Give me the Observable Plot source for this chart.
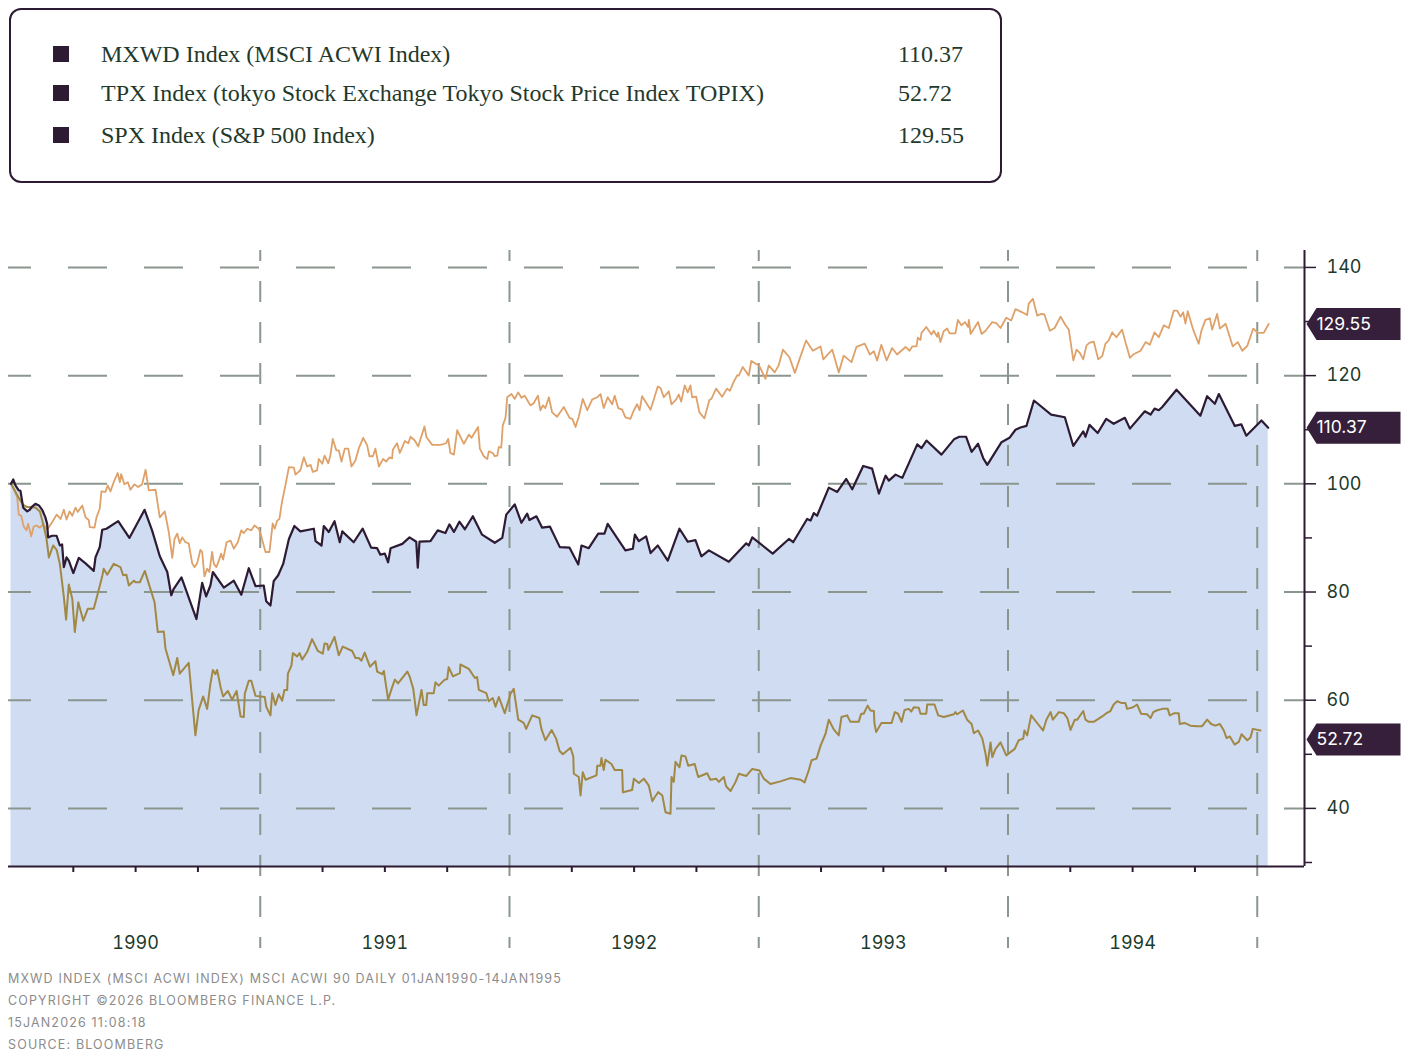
<!DOCTYPE html>
<html>
<head>
<meta charset="utf-8">
<script src="https://cdn.jsdelivr.net/npm/d3@7"></script>
<script src="https://cdn.jsdelivr.net/npm/@observablehq/plot@0.6"></script>
<style>
  html, body { margin: 0; padding: 0; background: #ffffff; }
  #page { position: relative; width: 1408px; height: 1057px; overflow: hidden; font-family: Inter, "Noto Sans", sans-serif; }
  #legend { position: absolute; left: 9px; top: 8px; width: 993px; height: 175px; box-sizing: border-box; border: 2px solid #2d1b33; border-radius: 12px; }
  .lg-sq { position: absolute; width: 16px; height: 16px; background: #2d1b33; }
  .lg-tx { position: absolute; font-family: "Liberation Serif", "DejaVu Serif", serif; font-size: 24px; line-height: 30px; height: 30px; color: #1f3a2c; white-space: nowrap; }
  #chart { position: absolute; left: 0; top: 240px; }
  .ft { position: absolute; left: 8px; font-family: Inter, sans-serif; font-size: 12.5px; line-height: 22px; letter-spacing: 1.15px; color: #8c8c8c; white-space: nowrap; }
</style>
</head>
<body>
<div id="page">
  <div id="legend"></div>
  <div id="chart"></div>
  <div id="footer"></div>
</div>
<script>
// ---------- DATA (decimal year, index value) ----------
const legendNames = [
  "MXWD Index (MSCI ACWI Index)",
  "TPX Index (tokyo Stock Exchange Tokyo Stock Price Index TOPIX)",
  "SPX Index (S&P 500 Index)"
];
const legendValues = ["110.37", "52.72", "129.55"];

const footerLines = [
  "MXWD INDEX (MSCI ACWI INDEX) MSCI ACWI 90 DAILY 01JAN1990-14JAN1995",
  "COPYRIGHT \u00A92026 BLOOMBERG FINANCE L.P.",
  "15JAN2026 11:08:18",
  "SOURCE: BLOOMBERG"
];

const lastValues = [
  {series: "SPX", v: 129.55, label: "129.55"},
  {series: "MXWD", v: 110.37, label: "110.37"},
  {series: "TPX", v: 52.72, label: "52.72"}
];

const yearLabels = [1990, 1991, 1992, 1993, 1994];
const yearBounds = [1991, 1992, 1993, 1994, 1995];
const yTickValues = [40, 60, 80, 100, 120, 140];
const yMinorValues = [30, 50, 70, 90, 110, 130];

const mxwd = [
[1990.000,100],[1990.009,100.8],[1990.018,99.7],[1990.031,98.8],[1990.038,98.7],[1990.049,95.6],[1990.065,94.9],[1990.075,95.2],[1990.085,95.8],[1990.098,96.3],[1990.112,96.0],[1990.125,95.2],[1990.138,93.8],[1990.145,92.6],[1990.149,90.1],[1990.165,90.4],[1990.183,90.4],[1990.196,88.6],[1990.205,88.8],[1990.212,84.6],[1990.223,86.4],[1990.232,85.8],[1990.250,83.5],[1990.272,86.3],[1990.299,85.3],[1990.332,83.9],[1990.339,86.4],[1990.356,88.3],[1990.366,91.5],[1990.383,91.7],[1990.430,93.1],[1990.475,90.0],[1990.536,95.2],[1990.566,91.4],[1990.597,86.6],[1990.627,83.7],[1990.643,79.4],[1990.653,80.6],[1990.684,82.7],[1990.744,75.0],[1990.767,81.7],[1990.783,79.2],[1990.800,81.2],[1990.810,83.7],[1990.854,80.8],[1990.894,82.1],[1990.924,79.5],[1990.954,84.4],[1990.981,81.1],
[1991.014,81.2],[1991.024,78.3],[1991.041,77.5],[1991.054,82.0],[1991.072,83.1],[1991.092,85.2],[1991.115,89.8],[1991.137,92.2],[1991.161,91.2],[1991.215,91.7],[1991.222,89.4],[1991.246,88.6],[1991.255,92.2],[1991.275,91.1],[1991.298,93.1],[1991.319,89.2],[1991.329,91.2],[1991.375,89.2],[1991.411,91.7],[1991.445,88.2],[1991.469,88.1],[1991.482,86.9],[1991.500,87.1],[1991.513,85.5],[1991.523,88.1],[1991.570,88.9],[1991.599,90.1],[1991.626,89.3],[1991.632,84.5],[1991.639,89.3],[1991.683,89.4],[1991.712,91.4],[1991.743,90.9],[1991.759,92.5],[1991.777,91.1],[1991.799,93.0],[1991.821,91.6],[1991.853,94.0],[1991.890,90.6],[1991.941,89.1],[1991.971,90.0],[1991.987,94.3],
[1992.021,96.2],[1992.048,92.8],[1992.071,94.5],[1992.080,93.3],[1992.108,94.0],[1992.131,91.9],[1992.162,92.1],[1992.202,88.3],[1992.241,88.2],[1992.276,85.1],[1992.289,88.6],[1992.318,88.1],[1992.356,90.8],[1992.381,90.8],[1992.394,92.6],[1992.465,87.7],[1992.495,88.0],[1992.503,90.6],[1992.519,89.4],[1992.548,90.3],[1992.566,87.2],[1992.595,88.6],[1992.635,85.8],[1992.682,91.7],[1992.715,89.3],[1992.746,89.6],[1992.770,86.6],[1992.800,87.7],[1992.880,85.6],[1992.950,89.0],[1992.960,88.6],[1992.974,90.1],
[1993.056,87.1],[1993.121,89.8],[1993.138,89.2],[1993.194,93.5],[1993.208,93.2],[1993.221,94.6],[1993.234,94.1],[1993.281,99.3],[1993.315,98.5],[1993.351,100.9],[1993.375,99.0],[1993.419,103.3],[1993.455,102.8],[1993.482,98.2],[1993.509,101.5],[1993.522,100.6],[1993.549,101.7],[1993.576,101.1],[1993.636,107.3],[1993.653,106.6],[1993.673,108.0],[1993.733,105.4],[1993.785,108.3],[1993.805,108.7],[1993.832,108.7],[1993.854,105.9],[1993.880,107.4],[1993.901,104.7],[1993.917,103.5],[1993.974,107.7],
[1994.006,108.5],[1994.030,110.0],[1994.050,110.4],[1994.074,110.7],[1994.104,115.4],[1994.173,112.8],[1994.228,112.3],[1994.262,107.0],[1994.302,109.7],[1994.311,108.7],[1994.327,110.9],[1994.360,109.4],[1994.394,112.0],[1994.424,111.1],[1994.469,112.2],[1994.489,110.2],[1994.549,113.4],[1994.572,112.8],[1994.588,113.9],[1994.605,113.6],[1994.619,114.2],[1994.676,117.4],[1994.772,112.6],[1994.799,116.2],[1994.830,114.8],[1994.846,116.6],[1994.910,110.7],[1994.936,111.0],[1994.956,108.9],[1995.017,111.7],[1995.044,110.37]
];

const spx = [
[1990.000,100],[1990.011,99.1],[1990.025,97.5],[1990.031,94.3],[1990.041,94.1],[1990.051,92.1],[1990.062,91.4],[1990.069,92.6],[1990.081,90.3],[1990.091,92.1],[1990.102,92.3],[1990.116,91.9],[1990.129,92.5],[1990.145,91.5],[1990.165,92.9],[1990.183,94.3],[1990.199,93.5],[1990.212,95.2],[1990.223,93.4],[1990.235,94.9],[1990.246,94.1],[1990.259,95.6],[1990.268,94.8],[1990.286,96.0],[1990.299,93.8],[1990.312,93.3],[1990.316,92.0],[1990.335,91.9],[1990.343,93.8],[1990.356,95.4],[1990.363,98.6],[1990.379,98.5],[1990.388,99.7],[1990.399,98.6],[1990.412,100.3],[1990.428,102.0],[1990.437,100.3],[1990.442,101.8],[1990.455,99.9],[1990.469,100.3],[1990.479,98.9],[1990.495,99.9],[1990.510,99.4],[1990.526,99.9],[1990.540,102.6],[1990.553,98.8],[1990.580,98.9],[1990.597,93.8],[1990.617,94.9],[1990.633,91.1],[1990.647,86.3],[1990.656,89.8],[1990.667,90.8],[1990.677,89.0],[1990.687,90.1],[1990.700,89.2],[1990.713,89.0],[1990.727,85.3],[1990.736,84.6],[1990.747,85.3],[1990.760,87.8],[1990.767,87.4],[1990.776,82.9],[1990.787,84.3],[1990.796,83.7],[1990.807,87.4],[1990.814,85.2],[1990.824,84.6],[1990.834,85.8],[1990.843,87.1],[1990.851,86.0],[1990.865,89.2],[1990.881,89.5],[1990.894,88.0],[1990.910,89.2],[1990.924,91.4],[1990.934,90.9],[1990.948,91.7],[1990.964,91.4],[1990.977,92.3],[1990.994,91.7],
[1991.001,90.8],[1991.021,87.4],[1991.037,87.4],[1991.050,92.7],[1991.058,91.7],[1991.068,93.2],[1991.077,93.5],[1991.084,95.7],[1991.088,96.8],[1991.101,99.7],[1991.115,103.1],[1991.135,103.0],[1991.141,101.7],[1991.161,102.5],[1991.175,104.9],[1991.188,103.2],[1991.202,103.5],[1991.211,102.2],[1991.228,102.5],[1991.235,104.6],[1991.249,103.7],[1991.258,105.2],[1991.273,103.8],[1991.282,105.4],[1991.291,108.3],[1991.305,106.2],[1991.315,106.2],[1991.326,104.1],[1991.339,106.5],[1991.353,106.5],[1991.366,103.2],[1991.382,104.3],[1991.395,106.5],[1991.413,108.5],[1991.429,107.1],[1991.438,105.1],[1991.452,105.1],[1991.462,106.5],[1991.476,103.2],[1991.493,104.6],[1991.505,104.1],[1991.519,104.9],[1991.529,104.7],[1991.532,106.3],[1991.549,107.5],[1991.560,105.7],[1991.580,107.9],[1991.594,107.5],[1991.603,108.7],[1991.620,108.0],[1991.634,106.9],[1991.643,108.3],[1991.659,110.6],[1991.667,108.6],[1991.690,107.2],[1991.723,107.2],[1991.746,107.5],[1991.754,108.3],[1991.763,105.7],[1991.777,105.4],[1991.790,109.9],[1991.817,107.4],[1991.837,109.1],[1991.848,108.5],[1991.874,110.5],[1991.881,106.5],[1991.897,105.1],[1991.911,104.6],[1991.917,106.0],[1991.933,105.7],[1991.941,105.1],[1991.951,105.2],[1991.957,106.8],[1991.967,106.7],[1991.973,110.8],[1991.984,112.2],[1991.991,116.0],
[1992.008,116.6],[1992.021,115.7],[1992.035,116.9],[1992.048,115.9],[1992.061,116.3],[1992.071,115.5],[1992.084,114.5],[1992.097,114.9],[1992.114,116.3],[1992.124,113.6],[1992.134,114.5],[1992.144,114.0],[1992.158,116.0],[1992.171,113.2],[1992.191,112.4],[1992.218,114.2],[1992.241,112.2],[1992.252,112.0],[1992.265,110.5],[1992.278,112.4],[1992.294,115.7],[1992.312,113.6],[1992.332,115.6],[1992.352,116.0],[1992.365,116.6],[1992.378,114.0],[1992.394,116.0],[1992.412,114.7],[1992.422,116.3],[1992.436,114.0],[1992.452,113.7],[1992.465,112.3],[1992.485,112.0],[1992.499,113.6],[1992.512,114.7],[1992.522,113.6],[1992.532,116.2],[1992.566,113.7],[1992.595,118.0],[1992.606,117.7],[1992.619,116.0],[1992.639,117.1],[1992.650,114.7],[1992.669,115.6],[1992.679,116.5],[1992.689,115.2],[1992.703,118.2],[1992.715,116.9],[1992.726,118.2],[1992.733,116.0],[1992.749,116.1],[1992.762,113.2],[1992.782,112.1],[1992.802,115.5],[1992.810,115.7],[1992.829,117.6],[1992.853,116.1],[1992.873,117.6],[1992.884,117.2],[1992.900,118.9],[1992.914,120.1],[1992.920,120.0],[1992.936,121.6],[1992.960,120.0],[1992.970,122.7],[1992.998,121.9],
[1993.003,121.7],[1993.027,119.4],[1993.040,121.9],[1993.064,120.6],[1993.080,121.9],[1993.097,124.8],[1993.123,123.4],[1993.145,120.5],[1993.164,123.1],[1993.190,126.5],[1993.217,124.6],[1993.248,125.4],[1993.259,123.0],[1993.295,124.8],[1993.321,120.6],[1993.341,123.7],[1993.372,122.5],[1993.392,125.3],[1993.425,125.9],[1993.446,123.9],[1993.462,124.5],[1993.475,122.8],[1993.492,125.7],[1993.513,122.8],[1993.535,125.1],[1993.555,123.9],[1993.589,125.3],[1993.605,124.6],[1993.616,125.4],[1993.633,125.4],[1993.638,127.0],[1993.649,126.6],[1993.653,127.9],[1993.672,129.0],[1993.693,127.6],[1993.702,128.3],[1993.716,127.2],[1993.720,128.0],[1993.729,126.2],[1993.742,128.2],[1993.756,128.7],[1993.766,127.8],[1993.789,127.8],[1993.799,130.3],[1993.813,129.3],[1993.827,129.9],[1993.840,129.0],[1993.843,130.3],[1993.850,127.7],[1993.880,129.9],[1993.894,127.7],[1993.910,128.3],[1993.937,129.9],[1993.953,129.7],[1993.970,128.8],[1993.993,130.7],
[1994.013,130.2],[1994.030,132.3],[1994.057,131.7],[1994.077,131.2],[1994.083,133.3],[1994.100,134.2],[1994.117,131.1],[1994.134,131.4],[1994.146,131.3],[1994.168,128.3],[1994.187,128.8],[1994.211,130.9],[1994.231,129.3],[1994.244,128.5],[1994.262,122.8],[1994.275,124.8],[1994.288,124.2],[1994.302,123.0],[1994.315,125.6],[1994.328,126.1],[1994.344,126.3],[1994.362,123.0],[1994.378,123.6],[1994.391,125.9],[1994.404,126.5],[1994.418,128.0],[1994.435,127.1],[1994.458,128.5],[1994.471,126.2],[1994.489,123.3],[1994.502,123.9],[1994.532,124.6],[1994.552,126.2],[1994.569,125.7],[1994.588,128.0],[1994.605,127.1],[1994.625,129.3],[1994.645,128.8],[1994.665,132.0],[1994.679,132.0],[1994.692,130.9],[1994.703,131.7],[1994.712,129.6],[1994.721,131.9],[1994.743,128.5],[1994.765,125.9],[1994.776,128.3],[1994.792,130.3],[1994.810,130.6],[1994.819,128.5],[1994.839,131.4],[1994.850,128.7],[1994.873,129.6],[1994.902,125.4],[1994.922,126.2],[1994.940,124.6],[1994.960,125.5],[1994.984,128.7],[1995.002,127.9],[1995.026,127.9],[1995.046,129.55]
];

const tpx = [
[1990.000,100],[1990.011,99.1],[1990.031,97.4],[1990.049,96.1],[1990.065,95.7],[1990.098,95.6],[1990.116,94.9],[1990.132,92.0],[1990.142,90.0],[1990.152,86.4],[1990.169,88.6],[1990.183,87.8],[1990.196,85.2],[1990.212,79.1],[1990.221,74.9],[1990.232,81.4],[1990.246,78.7],[1990.256,72.6],[1990.270,78.1],[1990.290,74.7],[1990.308,76.9],[1990.332,76.9],[1990.348,79.7],[1990.366,82.9],[1990.372,84.3],[1990.386,83.2],[1990.412,85.2],[1990.439,84.6],[1990.450,83.1],[1990.463,83.2],[1990.473,81.2],[1990.493,82.1],[1990.500,81.8],[1990.517,81.8],[1990.537,83.9],[1990.553,81.5],[1990.576,78.1],[1990.589,72.6],[1990.613,72.7],[1990.620,69.5],[1990.651,64.6],[1990.667,67.8],[1990.677,64.9],[1990.713,66.9],[1990.740,53.5],[1990.753,58.2],[1990.771,60.7],[1990.787,58.4],[1990.800,63.0],[1990.810,65.6],[1990.820,64.8],[1990.827,65.6],[1990.841,62.4],[1990.851,60.7],[1990.870,61.7],[1990.887,60.1],[1990.905,61.7],[1990.921,57.0],[1990.934,56.9],[1990.938,61.2],[1990.954,63.6],[1990.964,63.6],[1990.981,60.8],
[1991.018,60.6],[1991.024,58.8],[1991.041,57.2],[1991.048,61.3],[1991.061,59.1],[1991.074,61.1],[1991.088,59.9],[1991.097,61.9],[1991.108,61.9],[1991.111,64.9],[1991.125,66.4],[1991.131,68.7],[1991.148,68.1],[1991.158,68.7],[1991.168,67.5],[1991.188,68.9],[1991.208,71.3],[1991.231,69.1],[1991.251,68.6],[1991.258,70.5],[1991.269,70.4],[1991.273,69.3],[1991.298,71.7],[1991.315,68.3],[1991.331,69.9],[1991.369,69.1],[1991.382,67.8],[1991.395,67.8],[1991.406,67.3],[1991.419,68.8],[1991.440,66.2],[1991.462,67.2],[1991.469,65.3],[1991.489,64.8],[1991.496,65.4],[1991.513,60.1],[1991.527,62.1],[1991.540,63.8],[1991.553,63.1],[1991.590,65.3],[1991.600,64.3],[1991.614,62.1],[1991.627,57.2],[1991.647,61.9],[1991.656,59.1],[1991.666,59.1],[1991.670,61.3],[1991.696,61.3],[1991.703,63.3],[1991.716,62.7],[1991.740,63.8],[1991.750,63.9],[1991.756,66.1],[1991.773,64.4],[1991.801,65.0],[1991.803,66.6],[1991.837,65.8],[1991.861,64.1],[1991.870,64.3],[1991.877,61.9],[1991.907,61.3],[1991.917,59.8],[1991.933,60.4],[1991.944,58.8],[1991.957,60.6],[1991.981,57.6],
[1992.004,61.2],[1992.017,62.1],[1992.035,56.4],[1992.057,55.8],[1992.067,54.7],[1992.091,57.2],[1992.120,56.7],[1992.128,54.7],[1992.144,52.6],[1992.169,54.5],[1992.187,52.9],[1992.201,50.6],[1992.214,50.0],[1992.245,51.2],[1992.256,49.6],[1992.258,46.4],[1992.278,45.8],[1992.285,42.4],[1992.294,46.7],[1992.305,45.3],[1992.349,46.1],[1992.352,47.9],[1992.365,47.9],[1992.369,49.3],[1992.378,47.1],[1992.385,49.0],[1992.409,48.2],[1992.422,47.1],[1992.452,47.1],[1992.455,43.0],[1992.492,43.4],[1992.499,45.5],[1992.519,44.7],[1992.539,45.5],[1992.559,44.2],[1992.573,41.3],[1992.583,42.1],[1992.597,43.0],[1992.613,42.4],[1992.626,39.3],[1992.646,39.0],[1992.650,45.8],[1992.659,44.9],[1992.666,48.6],[1992.682,47.6],[1992.690,49.8],[1992.706,49.6],[1992.717,47.9],[1992.743,48.2],[1992.757,45.8],[1992.793,46.5],[1992.806,45.3],[1992.829,45.5],[1992.840,44.9],[1992.860,45.8],[1992.869,44.1],[1992.887,43.2],[1992.907,44.9],[1992.920,46.4],[1992.950,46.0],[1992.974,47.3],
[1993.003,47.0],[1993.020,45.5],[1993.047,44.5],[1993.087,45.0],[1993.127,45.6],[1993.168,45.3],[1993.184,44.8],[1993.201,47.1],[1993.212,48.9],[1993.232,49.2],[1993.248,51.6],[1993.268,53.8],[1993.281,56.4],[1993.301,54.6],[1993.321,53.5],[1993.332,56.9],[1993.355,57.2],[1993.361,56.6],[1993.368,56.0],[1993.401,56.0],[1993.411,57.5],[1993.421,57.5],[1993.437,59.0],[1993.448,58.1],[1993.462,58.0],[1993.464,55.8],[1993.471,54.1],[1993.492,55.8],[1993.533,55.8],[1993.546,57.8],[1993.559,57.5],[1993.573,56.0],[1993.585,58.2],[1993.602,58.4],[1993.612,57.9],[1993.622,58.7],[1993.642,58.6],[1993.649,57.5],[1993.672,57.5],[1993.676,59.2],[1993.705,59.2],[1993.720,57.2],[1993.742,56.9],[1993.783,57.4],[1993.789,57.8],[1993.796,57.4],[1993.819,58.1],[1993.836,56.4],[1993.854,55.6],[1993.863,53.9],[1993.880,54.4],[1993.897,52.9],[1993.910,50.1],[1993.917,47.9],[1993.930,52.2],[1993.937,49.5],[1993.950,51.0],[1993.970,52.2],[1993.993,49.8],
[1994.027,51.0],[1994.043,52.6],[1994.061,52.9],[1994.066,54.4],[1994.077,53.5],[1994.093,57.2],[1994.120,55.6],[1994.141,54.4],[1994.154,56.4],[1994.171,57.8],[1994.180,56.4],[1994.204,57.8],[1994.224,57.6],[1994.238,56.7],[1994.251,54.5],[1994.268,56.4],[1994.278,56.4],[1994.302,58.0],[1994.311,56.4],[1994.324,56.0],[1994.344,56.0],[1994.358,56.4],[1994.378,57.0],[1994.395,57.6],[1994.411,58.0],[1994.424,59.2],[1994.438,59.8],[1994.454,59.5],[1994.471,59.5],[1994.478,58.4],[1994.502,58.7],[1994.518,59.2],[1994.534,57.5],[1994.558,57.4],[1994.572,56.7],[1994.583,57.8],[1994.596,58.1],[1994.619,58.4],[1994.641,58.4],[1994.649,57.2],[1994.668,57.6],[1994.685,57.6],[1994.689,55.6],[1994.708,55.8],[1994.732,55.3],[1994.759,55.2],[1994.779,55.2],[1994.799,56.4],[1994.815,55.6],[1994.832,55.3],[1994.850,55.6],[1994.866,54.4],[1994.877,53.0],[1994.890,53.3],[1994.909,51.8],[1994.926,52.3],[1994.937,53.7],[1994.960,52.6],[1994.973,53.1],[1994.982,54.7],[1995.013,54.4]
];

// ---------- SCALE EXTENTS ----------
const xMin = 1989.990, xMax = 1995.1896;
const yMin = 29.26, yMax = 143.13;
const gridBottom = 14.1; // year separators continue below the axis

const toObj = a => a.map(([t, v]) => ({t, v}));
const mxwdData = toObj(mxwd), spxData = toObj(spx), tpxData = toObj(tpx);

const quarterTicks = [];
for (let y = 1990; y <= 1994; y++) for (const q of [0.25, 0.5, 0.75]) quarterTicks.push(y + q);
const yearMids = yearLabels.map(y => y + 0.5);

const dark = "#2d1b33";
const gridColor = "#8b968e";
const textColor = "#1c3a2c";

const tagSymbol = {
  draw(ctx) {
    ctx.moveTo(2, 0);
    ctx.lineTo(12, -16);
    ctx.lineTo(96, -16);
    ctx.lineTo(96, 16);
    ctx.lineTo(12, 16);
    ctx.closePath();
  }
};

const chart = Plot.plot({
  width: 1408,
  height: 720,
  marginLeft: 8,
  marginRight: 104,
  marginTop: 10,
  marginBottom: 94,
  x: {type: "linear", domain: [xMin, xMax], label: null},
  y: {type: "linear", domain: [yMin, yMax], label: null},
  style: {fontFamily: "Inter, sans-serif", fontSize: "18px", color: textColor, background: "transparent", overflow: "visible"},
  marks: [
    Plot.areaY(mxwdData, {x: "t", y1: yMin, y2: "v", fill: "#cfdcf1"}),
    Plot.ruleY(yTickValues, {stroke: gridColor, strokeWidth: 2, strokeDasharray: "39,37", strokeDashoffset: 16}),
    Plot.ruleX(yearBounds, {y1: yMax, y2: gridBottom, stroke: gridColor, strokeWidth: 2, strokeDasharray: "21,20", strokeDashoffset: 10}),
    Plot.line(spxData, {x: "t", y: "v", stroke: "#dea169", strokeWidth: 1.8}),
    Plot.line(tpxData, {x: "t", y: "v", stroke: "#a18845", strokeWidth: 2}),
    Plot.line(mxwdData, {x: "t", y: "v", stroke: dark, strokeWidth: 2.2}),
    Plot.ruleY([yMin], {stroke: dark, strokeWidth: 2}),
    Plot.ruleX([xMax], {y1: yMin, y2: yMax, stroke: dark, strokeWidth: 2}),
    Plot.axisY({anchor: "right", label: null, ticks: yTickValues, tickSize: 11, tickPadding: 11, tickFormat: d => String(d), stroke: dark, strokeWidth: 1.5, fill: textColor, fontSize: 18}),
    Plot.axisY({anchor: "right", label: null, ticks: yMinorValues, tickSize: 7, tickFormat: () => "", stroke: dark, strokeWidth: 1.5}),
    Plot.axisX({anchor: "bottom", label: null, ticks: quarterTicks, tickSize: 6, tickFormat: () => "", stroke: dark, strokeWidth: 2}),
    Plot.axisX({anchor: "bottom", label: null, ticks: yearMids, tickSize: 0, tickPadding: 70, tickFormat: d => String(Math.floor(d)), fill: textColor, fontSize: 18}),
    Plot.dot(lastValues, {x: xMax, y: "v", symbol: tagSymbol, fill: "#361f3a", r: 10}),
    Plot.text(lastValues, {x: xMax, y: "v", text: "label", dx: 12, textAnchor: "start", fill: "#ffffff", fontSize: 17.5})
  ]
});
document.getElementById("chart").appendChild(chart);

// ---------- LEGEND ----------
const legend = document.getElementById("legend");
const rowY = [54, 93, 135];
legendNames.forEach((name, i) => {
  const cy = rowY[i] - 8; // relative to legend box (top 8)
  const sq = document.createElement("div");
  sq.className = "lg-sq";
  sq.style.left = (53 - 11) + "px";
  sq.style.top = (cy - 8 - 2) + "px";
  legend.appendChild(sq);
  const tx = document.createElement("div");
  tx.className = "lg-tx";
  tx.style.left = (101 - 11) + "px";
  tx.style.top = (cy - 15 - 2) + "px";
  tx.textContent = name;
  legend.appendChild(tx);
  const vx = document.createElement("div");
  vx.className = "lg-tx";
  vx.style.left = (898 - 11) + "px";
  vx.style.top = (cy - 15 - 2) + "px";
  vx.textContent = legendValues[i];
  legend.appendChild(vx);
});

// ---------- FOOTER ----------
const footer = document.getElementById("footer");
footerLines.forEach((line, i) => {
  const d = document.createElement("div");
  d.className = "ft";
  d.style.top = (968 + i * 22) + "px";
  d.textContent = line;
  footer.appendChild(d);
});
</script>
</body>
</html>
